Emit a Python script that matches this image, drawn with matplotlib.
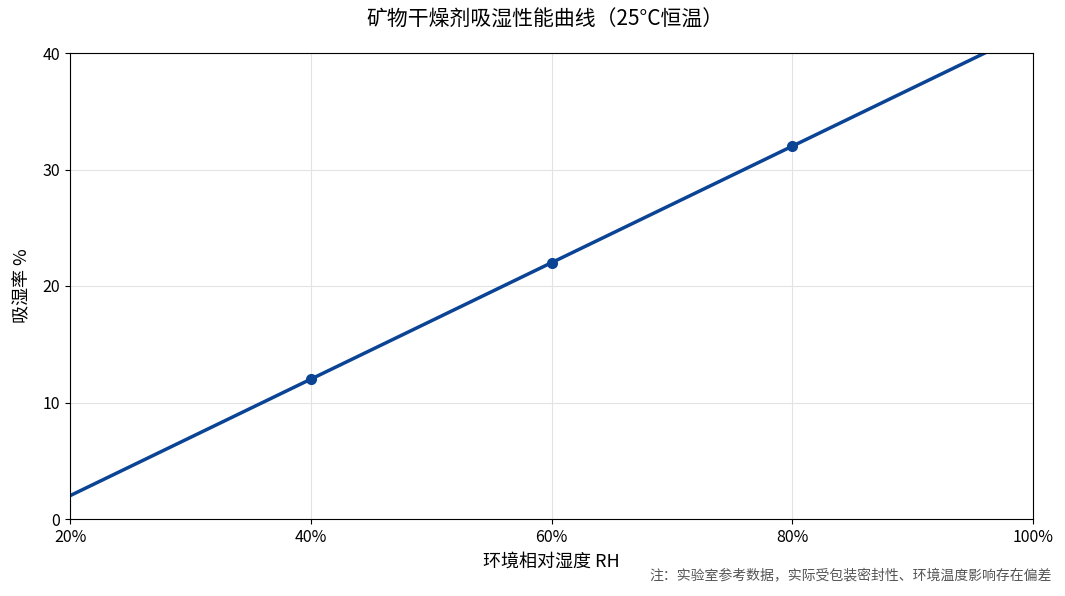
import numpy as np
import matplotlib.pyplot as plt
from matplotlib.ticker import FuncFormatter

plt.rcParams['font.family'] = ['Noto Sans CJK SC', 'DejaVu Sans']

# data
rh = [20, 40, 60, 80, 100]            # %
absorb = [2, 12, 22, 32, 42]          # 吸湿率 %
rh_pts = [40, 60, 80]
absorb_pts = [12, 22, 32]

color = '#0b4495'

fig = plt.figure(figsize=(10.65, 5.96), dpi=100)
ax = fig.add_axes([70/1065, 1 - 519/596, (1033-70)/1065, (519-53)/596])

ax.plot(rh, absorb, color=color, lw=2.5)
ax.plot(rh_pts, absorb_pts, 'o', color=color, ms=7)

ax.set_xlim(20, 100)
ax.set_ylim(0, 40)
ax.set_xticks([20, 40, 60, 80, 100])
ax.set_yticks([0, 10, 20, 30, 40])
ax.xaxis.set_major_formatter(FuncFormatter(lambda v, p: f'{v:.0f}%'))
ax.grid(True, color='#e3e3e3', lw=0.8)
ax.set_axisbelow(True)
ax.tick_params(labelsize=11.5)

ax.set_xlabel('环境相对湿度 RH', fontsize=13, labelpad=5)
ax.set_ylabel('吸湿率 %', fontsize=13, labelpad=8)
fig.text(545/1065, 1 - 20/596, '矿物干燥剂吸湿性能曲线（25°C恒温）', ha='center', va='center', fontsize=15)
fig.text(1052/1065, 1 - 576/596, '注：实验室参考数据，实际受包装密封性、环境温度影响存在偏差',
         ha='right', va='center', fontsize=10, color='#555555')

plt.savefig('out.png', dpi=100)
